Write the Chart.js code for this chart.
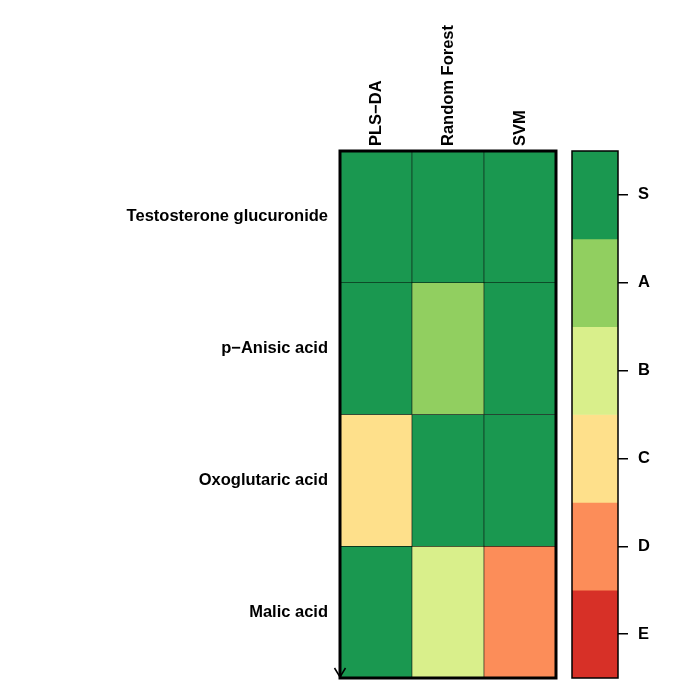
<!DOCTYPE html>
<html>
<head>
<meta charset="utf-8">
<script src="https://cdn.jsdelivr.net/npm/chart.js@4"></script>
<style>
  html, body { margin: 0; padding: 0; background: #ffffff; }
  #wrap { position: relative; width: 700px; height: 700px; }
  canvas { position: absolute; left: 0; top: 0; }
</style>
</head>
<body>
<div id="wrap">
  <canvas id="heatmap" width="700" height="700"></canvas>
  <canvas id="colorbar" width="700" height="700"></canvas>
</div>
<script>
// Data
const methods = ['PLS\u2212DA', 'Random Forest', 'SVM'];
const compounds = ['Testosterone glucuronide', 'p\u2212Anisic acid', 'Oxoglutaric acid', 'Malic acid'];
const grades = ['S', 'A', 'B', 'C', 'D', 'E'];
const gradeColors = ['#1A9850', '#91CF60', '#D9EF8B', '#FEE08B', '#FC8D59', '#D73027'];

// grade of each compound per method (PLS-DA, Random Forest, SVM)
const testosteroneGrades = ['S', 'S', 'S'];
const anisicGrades = ['S', 'A', 'S'];
const oxoglutaricGrades = ['C', 'S', 'S'];
const malicGrades = ['S', 'B', 'D'];
const gradeRows = [testosteroneGrades, anisicGrades, oxoglutaricGrades, malicGrades];

const labelFont = { family: 'Liberation Sans, Arial, sans-serif', size: 16.5, weight: 'bold' };
Chart.defaults.color = '#000000';

function colorOf(g) {
    return gradeColors[grades.indexOf(g)];
}

// Thick frame around the plot area, with the little arrow at bottom-left
const framePlugin = {
    id: 'frame',
    afterDatasetsDraw(chart, args, opts) {
        const { ctx, chartArea: a } = chart;
        ctx.save();
        ctx.strokeStyle = '#000000';
        ctx.lineWidth = opts.width;
        ctx.strokeRect(a.left, a.top, a.right - a.left, a.bottom - a.top);
        if (opts.arrow) {
            ctx.lineWidth = 1.5;
            ctx.beginPath();
            ctx.moveTo(a.left - 5.5, a.bottom - 10);
            ctx.lineTo(a.left, a.bottom - 1);
            ctx.lineTo(a.left + 5.5, a.bottom - 10);
            ctx.stroke();
        }
        ctx.restore();
    }
};

// Heatmap: one floating bar per cell, one dataset per compound row
const heatDatasets = gradeRows.map((row, r) => ({
    label: compounds[r],
    data: row.map(() => [r, r + 1]),
    backgroundColor: row.map(colorOf),
    borderColor: '#000000',
    borderWidth: 0.6,
    borderSkipped: false,
    barPercentage: 1,
    categoryPercentage: 1,
    grouped: false
}));

new Chart(document.getElementById('heatmap'), {
    type: 'bar',
    data: { labels: methods, datasets: heatDatasets },
    plugins: [framePlugin],
    options: {
        responsive: false,
        devicePixelRatio: 1,
        animation: false,
        layout: { padding: { left: 0, top: 0, right: 144, bottom: 22 } },
        plugins: {
            legend: { display: false },
            tooltip: { enabled: false },
            frame: { width: 3, arrow: true }
        },
        scales: {
            x: {
                position: 'top',
                grid: { display: false, drawTicks: false },
                border: { display: false },
                ticks: { font: labelFont, minRotation: 90, maxRotation: 90, padding: 5, labelOffset: 20 },
                afterFit(scale) { scale.height = 151; }
            },
            y: {
                type: 'linear',
                min: 0,
                max: compounds.length,
                reverse: true,
                grid: { display: false, drawTicks: false },
                border: { display: false },
                afterBuildTicks(scale) {
                    scale.ticks = compounds.map((c, i) => ({ value: i + 0.5 }));
                },
                ticks: {
                    font: labelFont,
                    padding: 12,
                    callback(value) { return compounds[Math.floor(value)]; }
                },
                afterFit(scale) { scale.width = 340; }
            }
        }
    }
});

// Colour key: one stacked column of grade segments
const keyDatasets = grades.map((g, i) => ({
    label: g,
    data: [[i, i + 1]],
    backgroundColor: gradeColors[i],
    borderWidth: 0,
    barPercentage: 1,
    categoryPercentage: 1,
    grouped: false
}));

new Chart(document.getElementById('colorbar'), {
    type: 'bar',
    data: { labels: ['key'], datasets: keyDatasets },
    plugins: [framePlugin],
    options: {
        responsive: false,
        devicePixelRatio: 1,
        animation: false,
        layout: { padding: { left: 572, top: 151, right: 0, bottom: 22 } },
        plugins: {
            legend: { display: false },
            tooltip: { enabled: false },
            frame: { width: 1.5, arrow: false }
        },
        scales: {
            x: { display: false },
            y: {
                type: 'linear',
                position: 'right',
                min: 0,
                max: grades.length,
                reverse: true,
                grid: { drawOnChartArea: false, drawTicks: true, tickLength: 10, color: '#000000', lineWidth: 1.5 },
                border: { display: false },
                afterBuildTicks(scale) {
                    scale.ticks = grades.map((g, i) => ({ value: i + 0.5 }));
                },
                ticks: {
                    font: labelFont,
                    padding: 10,
                    callback(value) { return grades[Math.floor(value)]; }
                },
                afterFit(scale) { scale.width = 82; }
            }
        }
    }
});
</script>
</body>
</html>
